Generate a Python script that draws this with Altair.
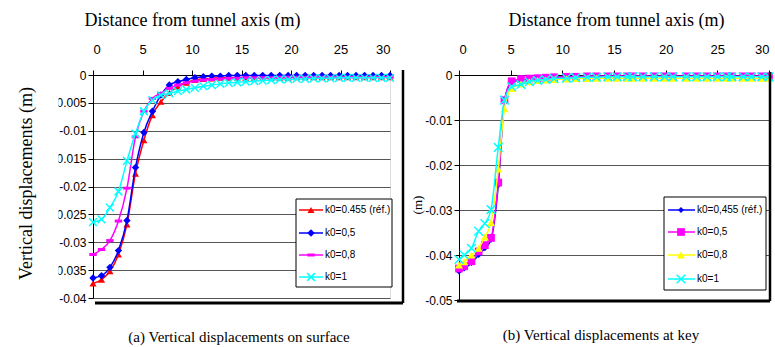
import altair as alt
import pandas as pd

# ---------------- data: (a) surface ----------------
x_surface = [0, 0.86, 1.71, 2.57, 3.43, 4.29, 5.14, 6.0, 6.86, 7.71, 8.57, 9.43,
             10.29, 11.14, 12.0, 12.86, 13.71, 14.57, 15.43, 16.29, 17.14, 18.0,
             18.86, 19.71, 20.57, 21.43, 22.29, 23.14, 24.0, 24.86, 25.71, 26.57,
             27.43, 28.29, 29.14, 30.0]
surf_k0455 = [-0.0374, -0.0367, -0.0352, -0.0322, -0.0268, -0.0177, -0.0117, -0.0072,
              -0.0048, -0.0032, -0.0021, -0.0014, -0.0009, -0.0007, -0.0006, -0.0005,
              -0.0005, -0.0005, -0.0005, -0.0005, -0.0005, -0.0005, -0.0005, -0.0005,
              -0.0004, -0.0004, -0.0004, -0.0004, -0.0004, -0.0004, -0.0004, -0.0004,
              -0.0004, -0.0004, -0.0004, -0.0004]
surf_k05 = [-0.0364, -0.0360, -0.0345, -0.0315, -0.0261, -0.0166, -0.0103, -0.0065,
            -0.0036, -0.0018, -0.0012, -0.0008, -0.0005, -0.0003, -0.0002, -0.0002,
            -0.0001, -0.0001, -0.0001, -0.0001, -0.0001, -0.0001, -0.0001, -0.0001,
            -0.0001, -0.0001, -0.0001, -0.0001, -0.0001, -0.0001, -0.0001, -0.0001,
            -0.0001, -0.0001, -0.0001, -0.0001]
surf_k08 = [-0.0322, -0.0313, -0.0297, -0.0262, -0.0203, -0.0111, -0.0065, -0.0042,
            -0.0033, -0.0024, -0.0018, -0.0014, -0.0011, -0.0009, -0.0008, -0.0007,
            -0.0006, -0.0006, -0.0005, -0.0005, -0.0005, -0.0005, -0.0004, -0.0004,
            -0.0004, -0.0004, -0.0004, -0.0004, -0.0004, -0.0004, -0.0004, -0.0004,
            -0.0004, -0.0004, -0.0004, -0.0004]
surf_k1 = [-0.0264, -0.0259, -0.0238, -0.0209, -0.0154, -0.0105, -0.0065, -0.0045,
           -0.0036, -0.0033, -0.0029, -0.0026, -0.0023, -0.0020, -0.0018, -0.0016,
           -0.0014, -0.0013, -0.0012, -0.0011, -0.0010, -0.0009, -0.0008, -0.0008,
           -0.0007, -0.0007, -0.0006, -0.0006, -0.0006, -0.0005, -0.0005, -0.0005,
           -0.0005, -0.0005, -0.0005, -0.0005]

# ---------------- data: (b) key ----------------
x_key = [0, 0.5, 1.2, 1.9, 2.5, 3.1, 3.8, 4.4, 5.1, 6.0, 6.8, 7.6, 8.4, 9.2, 10.4,
         11.3, 12.4, 13.3, 14.4, 15.3, 16.3, 16.8, 17.8, 18.9, 19.9, 20.7, 22.0,
         23.0, 24.0, 25.0, 25.9, 26.4, 27.5, 28.3, 29.3, 30.0]
key_k0455 = [-0.0437, -0.0430, -0.0418, -0.0400, -0.0385, -0.0366, -0.0245, -0.0058,
             -0.0016, -0.0011, -0.0009, -0.0007, -0.0006, -0.0005, -0.0004, -0.0004,
             -0.0004, -0.0003, -0.0003, -0.0003, -0.0003, -0.0003, -0.0003, -0.0003,
             -0.0003, -0.0003, -0.0003, -0.0003, -0.0003, -0.0003, -0.0003, -0.0003,
             -0.0003, -0.0003, -0.0003, -0.0003]
key_k05 = [-0.0430, -0.0425, -0.0414, -0.0392, -0.0378, -0.0362, -0.0239, -0.0056,
           -0.0014, -0.0009, -0.0008, -0.0007, -0.0006, -0.0005, -0.0004, -0.0004,
           -0.0003, -0.0003, -0.0003, -0.0003, -0.0003, -0.0003, -0.0003, -0.0003,
           -0.0003, -0.0003, -0.0003, -0.0003, -0.0003, -0.0003, -0.0003, -0.0003,
           -0.0003, -0.0003, -0.0003, -0.0003]
key_k08 = [-0.0422, -0.0415, -0.0400, -0.0385, -0.0360, -0.0328, -0.0209, -0.0075,
           -0.0030, -0.0020, -0.0015, -0.0012, -0.0011, -0.0010, -0.0009, -0.0008,
           -0.0008, -0.0007, -0.0007, -0.0007, -0.0007, -0.0007, -0.0007, -0.0007,
           -0.0007, -0.0007, -0.0007, -0.0007, -0.0007, -0.0007, -0.0007, -0.0007,
           -0.0007, -0.0007, -0.0007, -0.0007]
key_k1 = [-0.0410, -0.0400, -0.0385, -0.0347, -0.0330, -0.0299, -0.0161, -0.0056,
          -0.0026, -0.0021, -0.0015, -0.0012, -0.0010, -0.0008, -0.0007, -0.0006,
          -0.0005, -0.0005, -0.0004, -0.0004, -0.0004, -0.0004, -0.0004, -0.0004,
          -0.0004, -0.0004, -0.0004, -0.0004, -0.0004, -0.0004, -0.0004, -0.0004,
          -0.0004, -0.0004, -0.0004, -0.0004]

surf_labels = ["k0=0.455 (réf.)", "k0=0,5", "k0=0,8", "k0=1"]
key_labels = ["k0=0,455 (réf.)", "k0=0,5", "k0=0,8", "k0=1"]
x_ticks = [0, 5, 10, 15, 20, 25, 30]
surf_y_ticks = [0, -0.005, -0.01, -0.015, -0.02, -0.025, -0.03, -0.035, -0.04]
key_y_ticks = [0, -0.01, -0.02, -0.03, -0.04, -0.05]

SERIF = "Liberation Serif, Times New Roman, serif"
SANS = "Liberation Sans, Arial, sans-serif"
X_PATH = "M-1,-1L1,1M-1,1L1,-1"
DASH_PATH = "M-1,-0.4H1V0.4H-1Z"
LABEL_EXPR = "datum.value == 0 ? '0' : '-' + format(-datum.value, '~g')"

# style per series: (color, shape, size, filled)
surf_styles = [("#FF0000", "triangle-up", 50, True),
               ("#0000FF", "diamond", 55, True),
               ("#FF00FF", DASH_PATH, 55, True),
               ("#00FFFF", X_PATH, 60, False)]
key_styles = [("#0000FF", "diamond", 35, True),
              ("#FF00FF", "square", 60, True),
              ("#FFFF00", "triangle-up", 65, True),
              ("#00FFFF", X_PATH, 75, False)]

one = pd.DataFrame({"d": [0]})


def panel(xs, ys_list, styles, labels, y_domain, y_ticks, w, h,
          x_title_x, y_title, leg, caption, cap_xy, frame):
    x_axis = alt.Axis(orient="top", values=x_ticks, format="d", tickSize=5,
                      labelPadding=14, labelFont=SANS, labelFontSize=13,
                      labelColor="black", domainColor="black", tickColor="black",
                      grid=False, title="Distance from tunnel axis (m)",
                      titleFont=SERIF, titleFontSize=18, titleFontWeight="normal",
                      titleColor="black", titleX=x_title_x, titleY=-50,
                      titleAlign="center", titleBaseline="alphabetic")
    y_kwargs = dict(orient="left", values=y_ticks, labelExpr=LABEL_EXPR, tickSize=5,
                    labelPadding=2, labelFont=SANS, labelFontSize=12,
                    labelColor="black", domainColor="black", tickColor="black",
                    grid=True, gridColor="#555555", gridWidth=1)
    if y_title:
        y_kwargs.update(title=y_title, titleFont=SERIF, titleFontSize=18,
                        titleFontWeight="normal", titleColor="black",
                        titleX=-67, titleY=108, titleAngle=270,
                        titleAlign="center", titleBaseline="middle")
    else:
        y_kwargs.update(title=None)
    y_axis = alt.Axis(**y_kwargs)
    xs_scale = alt.Scale(domain=[0, 30], nice=False, zero=False)
    ys_scale = alt.Scale(domain=y_domain, nice=False, zero=False)

    layers = []
    for ys, (color, shape, size, filled) in zip(ys_list, styles):
        df = pd.DataFrame({"x": xs, "y": ys})
        base = alt.Chart(df).encode(
            x=alt.X("x:Q", scale=xs_scale, axis=x_axis),
            y=alt.Y("y:Q", scale=ys_scale, axis=y_axis))
        layers.append(base.mark_line(color=color, strokeWidth=1.5,
                                     interpolate="monotone"))
        layers.append(base.mark_point(shape=shape, size=size, filled=filled,
                                      color=color, opacity=1,
                                      strokeWidth=1.5))

    # legend box
    bx1, bx2, by1, by2, ly, lx1, lx2, lm, lt = leg
    layers.append(alt.Chart(one).mark_rect(fill="white", stroke="black",
                                           strokeWidth=1).encode(
        x=alt.value(bx1), x2=alt.value(bx2), y=alt.value(by1), y2=alt.value(by2)))
    for yy, lab, (color, shape, size, filled) in zip(ly, labels, styles):
        layers.append(alt.Chart(one).mark_rule(color=color, strokeWidth=1.5).encode(
            x=alt.value(lx1), x2=alt.value(lx2), y=alt.value(yy)))
        layers.append(alt.Chart(one).mark_point(shape=shape, size=size, filled=filled,
                                                color=color, opacity=1,
                                                strokeWidth=1.5).encode(
            x=alt.value(lm), y=alt.value(yy)))
        layers.append(alt.Chart(one).mark_text(align="left", baseline="middle",
                                               font=SANS, fontSize=10,
                                               color="black").encode(
            x=alt.value(lt), y=alt.value(yy), text=alt.value(lab)))

    # chart frame (bottom and right edges)
    fx1, fx2, fy1, fy2 = frame
    layers.append(alt.Chart(one).mark_rule(color="black", strokeWidth=3).encode(
        x=alt.value(fx1), x2=alt.value(fx2), y=alt.value(fy2)))
    layers.append(alt.Chart(one).mark_rule(color="black", strokeWidth=2.5).encode(
        x=alt.value(fx2), y=alt.value(fy1), y2=alt.value(fy2)))

    # caption
    layers.append(alt.Chart(one).mark_text(align="center", baseline="middle",
                                           font=SERIF, fontSize=15,
                                           color="black").encode(
        x=alt.value(cap_xy[0]), y=alt.value(cap_xy[1]), text=alt.value(caption)))

    return alt.layer(*layers).properties(width=w, height=h)


left = panel(x_surface, [surf_k0455, surf_k05, surf_k08, surf_k1], surf_styles,
             surf_labels, [-0.04, 0], surf_y_ticks, 297, 223, 99,
             "Vertical displacements (m)",
             (203, 299, 124, 212, [135, 158, 180, 202], 206, 230, 218, 232),
             "(a) Vertical displacements on surface", (146, 262),
             (2, 310, -5, 228))
# clip of the long tick labels at the left edge of the first chart
left = alt.layer(left, alt.Chart(one).mark_rect(fill="white").encode(
    x=alt.value(-48), x2=alt.value(-34.5), y=alt.value(15), y2=alt.value(215)))

right = panel(x_key, [key_k0455, key_k05, key_k08, key_k1], key_styles,
              key_labels, [-0.05, 0], key_y_ticks, 310, 225, 157, None,
              (205, 307, 122, 215, [135, 157, 180, 204], 209, 236, 222, 238),
              "(b) Vertical displacements at key", (142, 260),
              (-2, 311, -3, 226))
right = alt.layer(right, alt.Chart(one).mark_text(
    angle=270, align="center", baseline="middle", font=SERIF, fontSize=13,
    color="black").encode(x=alt.value(-41), y=alt.value(130), text=alt.value("(m)")))

chart = alt.hconcat(left, right, spacing=69, bounds="flush").properties(
    autosize=alt.AutoSizeParams(type="none"),
    padding={"left": 93, "top": 75, "right": 682, "bottom": 272},
).configure_view(stroke=None).configure(background="white")

chart.save("out.html", embed_options={"renderer": "svg", "actions": False})
